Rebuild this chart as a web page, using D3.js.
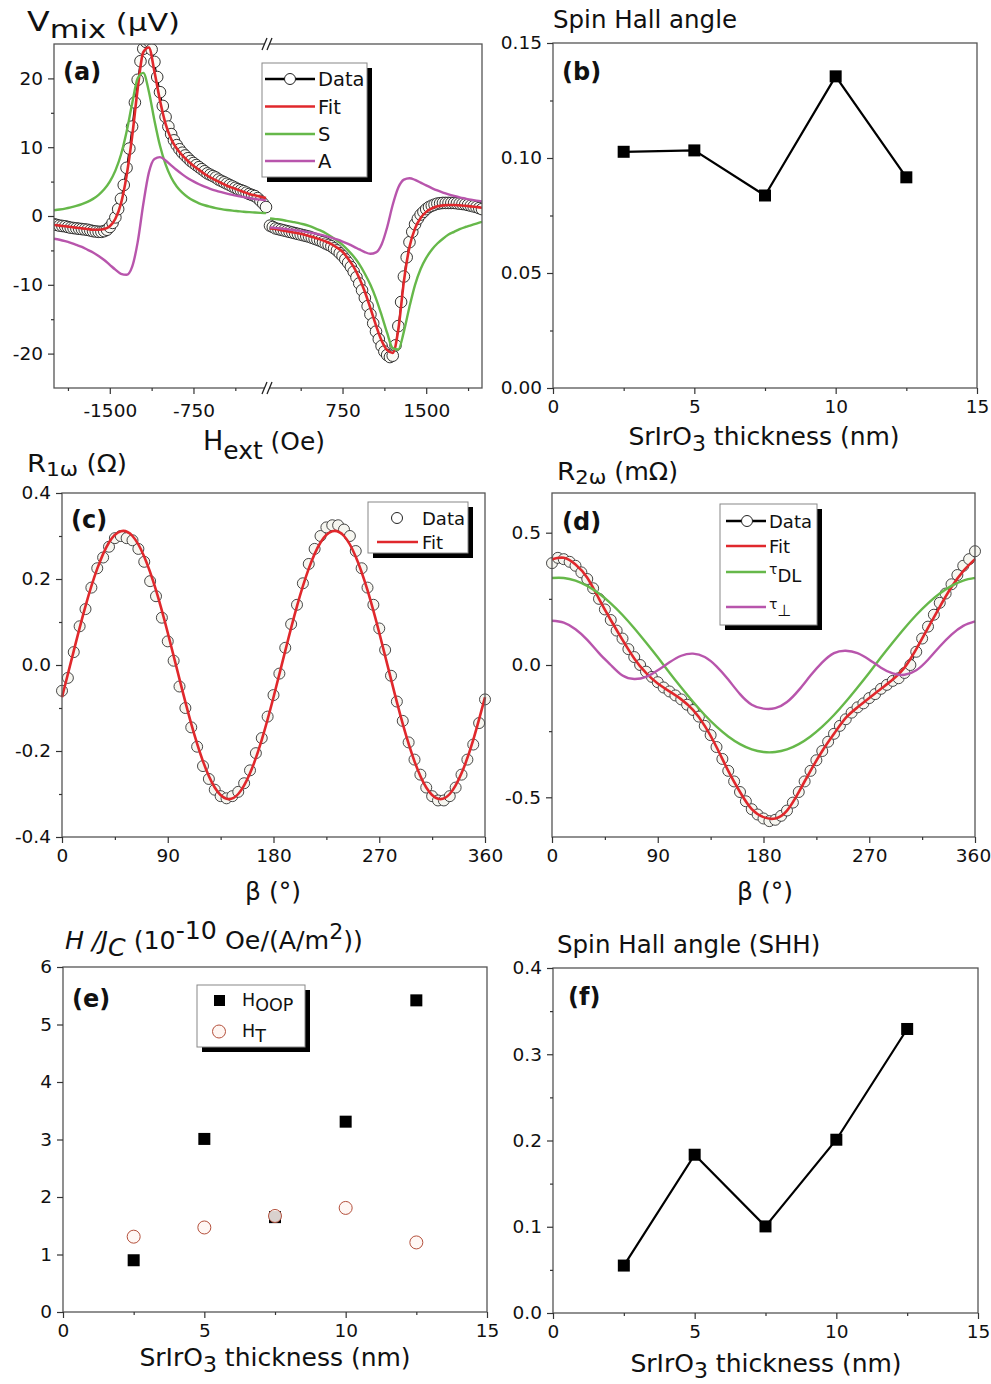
<!DOCTYPE html>
<html>
<head>
<meta charset="utf-8">
<script src="https://cdn.jsdelivr.net/npm/d3@7"></script>
<style>
  body { margin: 0; background: #fff; }
  svg { display: block; }
</style>
</head>
<body>
<svg id="fig" width="991" height="1384"></svg>
<script>
// ---------------- data ----------------
// (a) Vmix vs Hext, two branches of the broken axis
// measured points (denser grid)
var hDataLeft = [-2000,-1975,-1950,-1925,-1900,-1875,-1850,-1825,-1800,-1775,-1750,-1725,-1700,-1675,-1650,-1625,-1600,-1575,-1550,-1525,
  -1500,-1475,-1450,-1425,-1400,-1375,-1350,-1325,-1300,-1275,-1250,-1225,-1200,-1175,-1150,-1125,-1100,-1075,-1050,-1025,
  -1000,-975,-950,-925,-900,-875,-850,-825,-800,-775,-750,-725,-700,-675,-650,-625,-600,-575,-550,-525,
  -500,-475,-450,-425,-400,-375,-350,-325,-300,-275,-250,-225,-200,-175,-150,-125,-100];
var vDataLeft = [-1.2,-1.3,-1.4,-1.45,-1.5,-1.6,-1.7,-1.75,-1.8,-1.85,-1.9,-1.95,-2.0,-2.1,-2.2,-2.25,-2.3,-2.3,-2.2,-2.0,
  -1.6,-1.0,-0.2,1.0,2.5,4.5,7.0,9.8,13.0,16.5,19.8,22.5,24.3,25.3,25.4,24.2,22.4,20.2,18.0,16.0,
  14.4,13.0,11.9,11.0,10.3,9.7,9.2,8.8,8.4,8.0,7.7,7.4,7.1,6.8,6.5,6.2,6.0,5.8,5.6,5.3,
  5.1,4.9,4.7,4.5,4.3,4.1,3.9,3.75,3.6,3.4,3.2,3.05,2.9,2.6,2.2,1.8,1.3];
var hDataRight = [100,125,150,175,200,225,250,275,300,325,350,375,400,425,450,475,500,525,550,575,
  600,625,650,675,700,725,750,775,800,825,850,875,900,925,950,975,1000,1025,1050,1075,
  1100,1125,1150,1175,1200,1225,1250,1275,1300,1325,1350,1375,1400,1425,1450,1475,1500,1525,1550,1575,
  1600,1625,1650,1675,1700,1725,1750,1775,1800,1825,1850,1875,1900,1925,1950,1975,2000];
var vDataRight = [-1.4,-1.6,-1.8,-1.9,-2.0,-2.1,-2.2,-2.3,-2.4,-2.5,-2.6,-2.7,-2.8,-2.9,-3.0,-3.15,-3.3,-3.45,-3.6,-3.8,
  -4.0,-4.2,-4.4,-4.7,-5.0,-5.4,-5.8,-6.3,-6.8,-7.4,-8.1,-8.9,-9.8,-10.8,-11.9,-13.1,-14.3,-15.6,-16.8,-17.9,
  -18.9,-19.7,-20.2,-20.5,-20.3,-18.8,-16.0,-12.5,-8.8,-6.0,-3.8,-2.3,-1.2,-0.4,0.2,0.6,1.0,1.3,1.5,1.65,
  1.8,1.85,1.9,1.9,1.9,1.9,1.9,1.85,1.8,1.75,1.7,1.6,1.5,1.4,1.3,1.15,1.0];

// fitted curves and components
var hLeft = [-2000,-1950,-1900,-1850,-1800,-1750,-1700,-1650,-1600,-1550,-1500,-1450,-1400,-1350,-1300,-1250,-1200,-1150,-1100,-1050,-1000,-950,-900,-850,-800,-750,-700,-650,-600,-550,-500,-450,-400,-350,-300,-250,-200,-150,-100];
var vFitLeft = [-1.3,-1.4,-1.5,-1.6,-1.7,-1.8,-1.9,-2.0,-2.0,-1.9,-1.5,-0.4,1.8,5.8,11.5,18.5,23.8,24.5,21.0,16.8,13.4,11.2,9.8,8.8,8.0,7.3,6.7,6.1,5.6,5.2,4.8,4.4,4.1,3.8,3.5,3.2,3.0,2.8,2.6];
var vSLeft = [0.84,0.95,1.08,1.25,1.46,1.72,2.05,2.49,3.08,3.88,5.0,6.6,8.9,12.2,16.3,20.0,20.8,18.1,13.9,10.2,7.5,5.6,4.3,3.4,2.73,2.23,1.85,1.56,1.34,1.15,1.0,0.88,0.78,0.70,0.62,0.56,0.51,0.46,0.42];
var vALeft = [-3.3,-3.45,-3.65,-3.9,-4.2,-4.5,-4.9,-5.3,-5.8,-6.4,-7.1,-7.8,-8.4,-8.55,-7.4,-3.8,1.7,6.3,8.3,8.56,8.07,7.37,6.68,6.05,5.5,5.03,4.62,4.27,3.96,3.69,3.46,3.25,3.06,2.9,2.75,2.61,2.48,2.38,2.27];

var hRight = [100,150,200,250,300,350,400,450,500,550,600,650,700,750,800,850,900,950,1000,1050,1100,1150,1200,1250,1300,1350,1400,1450,1500,1550,1600,1650,1700,1750,1800,1850,1900,1950,2000];
var vFitRight = [-1.8,-1.9,-2.05,-2.2,-2.35,-2.5,-2.7,-2.9,-3.15,-3.4,-3.7,-4.1,-4.6,-5.2,-6.2,-7.4,-9.0,-11.0,-13.4,-15.9,-18.1,-19.5,-19.9,-16.5,-9.5,-4.5,-1.8,-0.3,0.6,1.1,1.4,1.55,1.6,1.6,1.55,1.5,1.4,1.3,1.2];
var vSRight = [-0.35,-0.45,-0.55,-0.7,-0.85,-1.0,-1.2,-1.45,-1.75,-2.1,-2.5,-3.0,-3.6,-4.2,-5.0,-5.9,-7.0,-8.4,-10.0,-12.0,-14.4,-17.0,-19.2,-19.4,-16.8,-13.2,-10.0,-7.7,-6.1,-4.9,-4.0,-3.3,-2.7,-2.3,-1.9,-1.6,-1.35,-1.1,-0.85];
var vARight = [-1.65,-1.73,-1.81,-1.9,-2.0,-2.12,-2.24,-2.38,-2.54,-2.71,-2.92,-3.15,-3.41,-3.71,-4.06,-4.44,-4.85,-5.25,-5.49,-5.29,-4.14,-1.63,1.63,4.14,5.29,5.49,5.25,4.85,4.44,4.06,3.71,3.41,3.15,2.92,2.71,2.54,2.38,2.24,2.12];

// (c), (d) angle sweeps
var beta5 = [0,5,10,15,20,25,30,35,40,45,50,55,60,65,70,75,80,85,90,95,100,105,110,115,120,125,130,135,140,145,150,155,160,165,170,175,180,185,190,195,200,205,210,215,220,225,230,235,240,245,250,255,260,265,270,275,280,285,290,295,300,305,310,315,320,325,330,335,340,345,350,355,360];
var beta10 = [0,10,20,30,40,50,60,70,80,90,100,110,120,130,140,150,160,170,180,190,200,210,220,230,240,250,260,270,280,290,300,310,320,330,340,350,360];

var r1Data = [-0.06,-0.03,0.03,0.09,0.13,0.18,0.225,0.25,0.275,0.295,
  0.30,0.295,0.29,0.27,0.24,0.195,0.16,0.11,0.055,0.01,
  -0.05,-0.10,-0.145,-0.19,-0.235,-0.265,-0.29,-0.305,-0.31,-0.305,
  -0.295,-0.275,-0.245,-0.205,-0.17,-0.12,-0.07,-0.02,0.04,0.095,
  0.14,0.19,0.235,0.27,0.30,0.32,0.325,0.325,0.315,0.30,
  0.265,0.225,0.18,0.14,0.085,0.035,-0.025,-0.085,-0.13,-0.18,
  -0.22,-0.255,-0.285,-0.305,-0.315,-0.315,-0.305,-0.285,-0.255,-0.22,
  -0.185,-0.135,-0.08];
var r1Fit = [-0.075,0.033,0.137,0.224,0.285,0.311,0.300,0.252,0.174,0.075,-0.033,-0.137,-0.224,-0.285,-0.311,-0.300,-0.252,-0.174,-0.075,
  0.033,0.137,0.224,0.285,0.311,0.300,0.252,0.174,0.075,-0.033,-0.137,-0.224,-0.285,-0.311,-0.300,-0.252,-0.174,-0.075];

var r2Data = [0.385,0.405,0.40,0.39,0.375,0.35,0.325,0.29,0.25,0.21,
  0.17,0.13,0.10,0.06,0.03,0.0,-0.025,-0.045,-0.065,-0.085,
  -0.10,-0.115,-0.13,-0.15,-0.17,-0.195,-0.23,-0.265,-0.31,-0.355,
  -0.40,-0.44,-0.48,-0.515,-0.545,-0.565,-0.58,-0.59,-0.585,-0.57,
  -0.55,-0.52,-0.48,-0.44,-0.40,-0.36,-0.325,-0.29,-0.26,-0.23,
  -0.205,-0.18,-0.16,-0.145,-0.125,-0.11,-0.09,-0.075,-0.06,-0.05,
  -0.03,0.0,0.05,0.10,0.145,0.19,0.235,0.27,0.305,0.34,
  0.375,0.40,0.43];
var r2Fit = [0.40,0.405,0.38,0.33,0.25,0.17,0.095,0.025,-0.03,-0.07,-0.10,-0.13,-0.17,-0.23,-0.31,-0.40,-0.48,-0.545,-0.575,
  -0.58,-0.55,-0.48,-0.40,-0.325,-0.26,-0.20,-0.16,-0.125,-0.09,-0.055,-0.01,0.06,0.14,0.22,0.295,0.355,0.40];
var tauDL = [0.329,0.329,0.319,0.299,0.270,0.233,0.189,0.139,0.085,0.029,-0.029,-0.085,-0.139,-0.189,-0.233,-0.270,-0.299,-0.319,-0.329,
  -0.329,-0.319,-0.299,-0.270,-0.233,-0.189,-0.139,-0.085,-0.029,0.029,0.085,0.139,0.189,0.233,0.270,0.299,0.319,0.329];
var tauPerp = [0.167,0.16,0.135,0.095,0.045,0.0,-0.04,-0.053,-0.045,-0.02,0.01,0.035,0.043,0.03,-0.005,-0.055,-0.11,-0.15,-0.165,
  -0.163,-0.14,-0.095,-0.04,0.01,0.045,0.054,0.045,0.02,-0.01,-0.032,-0.037,-0.02,0.02,0.07,0.115,0.148,0.165];

// (b), (e), (f) thickness series
var thickness = [2.5, 5, 7.5, 10, 12.5];
var shaB = [0.1027, 0.1033, 0.0837, 0.1355, 0.0916];
var hOOP = [0.90, 3.01, 1.65, 3.31, 5.42];
var hT = [1.31, 1.47, 1.67, 1.81, 1.21];
var shaF = [0.055, 0.1835, 0.1004, 0.2009, 0.3293];

// ---------------- drawing ----------------
var FONT = "'DejaVu Sans', 'Liberation Sans', Arial, sans-serif";
var RED = "#e0282c", GREEN = "#66b84a", PURPLE = "#b855ac";
var svg = d3.select("#fig");
var clipId = 0;

function zip(xs, ys) { return xs.map(function(x, i) { return [x, ys[i]]; }); }

function styleAxis(sel) {
  sel.select(".domain").remove();
  sel.selectAll(".tick line").attr("stroke", "#333").attr("stroke-width", 1.2);
  sel.selectAll(".tick text").attr("fill", "#111").style("font-size", "18.5px").style("font-family", FONT);
}

function xAxis(x, y0, major, minor, fmt, pad) {
  var ax = svg.append("g").attr("transform", "translate(0," + y0 + ")")
    .call(d3.axisBottom(x).tickValues(major).tickFormat(fmt).tickSize(6).tickPadding(pad || 5)).call(styleAxis);
  if (minor) svg.append("g").attr("transform", "translate(0," + y0 + ")")
    .call(d3.axisBottom(x).tickValues(minor).tickFormat("").tickSize(3)).call(styleAxis);
  return ax;
}
function yAxis(y, x0, major, minor, fmt) {
  svg.append("g").attr("transform", "translate(" + x0 + ",0)")
    .call(d3.axisLeft(y).tickValues(major).tickFormat(fmt).tickSize(6).tickPadding(5)).call(styleAxis);
  if (minor) svg.append("g").attr("transform", "translate(" + x0 + ",0)")
    .call(d3.axisLeft(y).tickValues(minor).tickFormat("").tickSize(3)).call(styleAxis);
}

function frame(x0, y0, x1, y1) {
  svg.append("rect").attr("x", x0).attr("y", y0).attr("width", x1 - x0).attr("height", y1 - y0)
    .attr("fill", "none").attr("stroke", "#555").attr("stroke-width", 1.3);
}

function clipped(x0, y0, x1, y1) {
  var id = "clip" + (clipId++);
  svg.append("clipPath").attr("id", id).append("rect")
    .attr("x", x0).attr("y", y0).attr("width", x1 - x0).attr("height", y1 - y0);
  return svg.append("g").attr("clip-path", "url(#" + id + ")");
}

function panelLabel(x, y, s) {
  svg.append("text").attr("x", x).attr("y", y).text(s)
    .style("font-family", FONT).style("font-weight", "bold").style("font-size", "24px").attr("fill", "#111");
}

// composite text: parts = [{t, size, shift, italic, family}]
function rich(x, y, parts, anchor, len) {
  var t = svg.append("text").attr("x", x).attr("y", y).attr("text-anchor", anchor || "start")
    .attr("fill", "#111").style("font-family", FONT);
  if (len) t.attr("textLength", len).attr("lengthAdjust", "spacingAndGlyphs");
  var cur = 0;
  parts.forEach(function(p) {
    var s = t.append("tspan").text(p.t).style("font-size", p.size + "px");
    var sh = p.shift || 0;
    if (sh !== cur) s.attr("dy", sh - cur);
    cur = sh;
    if (p.italic) s.style("font-style", "italic");
    if (p.family) s.style("font-family", p.family);
  });
  return t;
}

function legendBox(x0, y0, x1, y1) {
  svg.append("rect").attr("x", x0 + 5).attr("y", y0 + 5).attr("width", x1 - x0).attr("height", y1 - y0).attr("fill", "#000");
  svg.append("rect").attr("x", x0).attr("y", y0).attr("width", x1 - x0).attr("height", y1 - y0)
    .attr("fill", "#fff").attr("stroke", "#888").attr("stroke-width", 1);
}
function legendText(x, y, parts, size) {
  return rich(x, y, parts.map(function(p) { return Object.assign({ size: size }, p); }));
}

var thicknessLabel = [{ t: "SrIrO", size: 25 }, { t: "3", size: 22, shift: 6 }, { t: " thickness (nm)", size: 25, shift: 0 }];

// ======== (a) ========
(function() {
  var L = 54, R = 482, T = 44, B = 388;
  var xL = d3.scaleLinear().domain([-2000, -100]).range([L, 266]);
  var xR = d3.scaleLinear().domain([100, 2000]).range([270, R]);
  var y = d3.scaleLinear().domain([-25, 25]).range([B, T]);

  var g = clipped(L, T, R, B);
  [[xL, hDataLeft, vDataLeft, hLeft, vFitLeft, vSLeft, vALeft], [xR, hDataRight, vDataRight, hRight, vFitRight, vSRight, vARight]].forEach(function(b) {
    var x = b[0];
    var lin = d3.line().x(function(d) { return x(d[0]); }).y(function(d) { return y(d[1]); });
    var smooth = d3.line().curve(d3.curveMonotoneX).x(function(d) { return x(d[0]); }).y(function(d) { return y(d[1]); });
    g.append("path").attr("d", lin(zip(b[1], b[2]))).attr("fill", "none").attr("stroke", "#000").attr("stroke-width", 1.2);
    g.selectAll(null).data(zip(b[1], b[2])).enter().append("circle")
      .attr("cx", function(d) { return x(d[0]); }).attr("cy", function(d) { return y(d[1]); })
      .attr("r", 5.8).attr("fill", "#fbfbf6").attr("stroke", "#1e1e1e").attr("stroke-width", 0.9);
    g.append("path").attr("d", smooth(zip(b[3], b[4]))).attr("fill", "none").attr("stroke", RED).attr("stroke-width", 2.6);
    g.append("path").attr("d", smooth(zip(b[3], b[5]))).attr("fill", "none").attr("stroke", GREEN).attr("stroke-width", 2.4);
    g.append("path").attr("d", smooth(zip(b[3], b[6]))).attr("fill", "none").attr("stroke", PURPLE).attr("stroke-width", 2.4);
  });

  frame(L, T, R, B);
  xAxis(xL, B, [-1500, -750], [-1875, -1125, -375], function(d) { return String(d); }, 10);
  xAxis(xR, B, [750, 1500], [375, 1125, 1875], function(d) { return String(d); }, 10);
  yAxis(y, L, [-20, -10, 0, 10, 20], [-15, -5, 5, 15], function(d) { return String(d); });

  // axis break marks
  [T, B].forEach(function(yy) {
    svg.append("path").attr("d", "M262," + (yy + 6) + "L267," + (yy - 6) + "L272," + (yy - 6) + "L267," + (yy + 6) + "Z")
      .attr("fill", "#fff");
    svg.append("path").attr("d", "M262," + (yy + 6) + "L267," + (yy - 6) + "M267," + (yy + 6) + "L272," + (yy - 6))
      .attr("stroke", "#222").attr("stroke-width", 1.3).attr("fill", "none");
  });

  panelLabel(63, 80, "(a)");

  legendBox(262, 63, 367, 177);
  var ly = [79, 106.5, 134, 161];
  svg.append("line").attr("x1", 265).attr("x2", 315).attr("y1", ly[0]).attr("y2", ly[0]).attr("stroke", "#000").attr("stroke-width", 2.4);
  svg.append("circle").attr("cx", 290).attr("cy", ly[0]).attr("r", 5.5).attr("fill", "#fff").attr("stroke", "#222");
  [[RED, 1], [GREEN, 2], [PURPLE, 3]].forEach(function(c) {
    svg.append("line").attr("x1", 265).attr("x2", 315).attr("y1", ly[c[1]]).attr("y2", ly[c[1]]).attr("stroke", c[0]).attr("stroke-width", 2.6);
  });
  ["Data", "Fit", "S", "A"].forEach(function(s, i) { legendText(318, ly[i] + 7, [{ t: s }], 19.5); });

  rich(27, 31, [{ t: "V", size: 26 }, { t: "mix", size: 24, shift: 7 }, { t: " (μV)", size: 24, shift: 0 }], "start", 153);
  rich(264, 450, [{ t: "H", size: 26 }, { t: "ext", size: 24, shift: 9 }, { t: " (Oe)", size: 24, shift: 0 }], "middle", 122);
})();

// ======== (b) ========
(function() {
  var L = 553, R = 977, T = 43, B = 388;
  var x = d3.scaleLinear().domain([0, 15]).range([L, R]);
  var y = d3.scaleLinear().domain([0, 0.15]).range([B, T]);
  frame(L, T, R, B);
  svg.append("path").attr("d", d3.line().x(function(d) { return x(d[0]); }).y(function(d) { return y(d[1]); })(zip(thickness, shaB)))
    .attr("fill", "none").attr("stroke", "#000").attr("stroke-width", 2.2);
  svg.selectAll(null).data(zip(thickness, shaB)).enter().append("rect")
    .attr("x", function(d) { return x(d[0]) - 6; }).attr("y", function(d) { return y(d[1]) - 6; })
    .attr("width", 12).attr("height", 12).attr("fill", "#000");
  xAxis(x, B, [0, 5, 10, 15], [2.5, 7.5, 12.5], function(d) { return String(d); }, 6);
  yAxis(y, L, [0, 0.05, 0.1, 0.15], [0.025, 0.075, 0.125], function(d) { return d.toFixed(2); });
  panelLabel(562, 80, "(b)");
  rich(553, 28, [{ t: "Spin Hall angle", size: 24.5 }]);
  rich(764, 445, thicknessLabel, "middle");
})();

// ======== (c) ========
(function() {
  var L = 62, R = 485, T = 493, B = 837;
  var x = d3.scaleLinear().domain([0, 360]).range([L, R]);
  var y = d3.scaleLinear().domain([-0.4, 0.4]).range([B, T]);
  var g = clipped(L - 8, T, R + 8, B);
  g.selectAll(null).data(zip(beta5, r1Data)).enter().append("circle")
    .attr("cx", function(d) { return x(d[0]); }).attr("cy", function(d) { return y(d[1]); })
    .attr("r", 5.5).attr("fill", "#f6f6f0").attr("stroke", "#333").attr("stroke-width", 0.9);
  g.append("path").attr("d", d3.line().curve(d3.curveNatural).x(function(d) { return x(d[0]); }).y(function(d) { return y(d[1]); })(zip(beta10, r1Fit)))
    .attr("fill", "none").attr("stroke", RED).attr("stroke-width", 2.6);
  frame(L, T, R, B);
  xAxis(x, B, [0, 90, 180, 270, 360], [45, 135, 225, 315], function(d) { return String(d); }, 6);
  yAxis(y, L, [-0.4, -0.2, 0, 0.2, 0.4], [-0.3, -0.1, 0.1, 0.3], function(d) { return d.toFixed(1); });
  panelLabel(71, 528, "(c)");

  legendBox(368, 502, 468, 553);
  svg.append("circle").attr("cx", 397).attr("cy", 518).attr("r", 5.5).attr("fill", "#fff").attr("stroke", "#222");
  svg.append("line").attr("x1", 377).attr("x2", 418).attr("y1", 542).attr("y2", 542).attr("stroke", RED).attr("stroke-width", 2.6);
  legendText(422, 525, [{ t: "Data" }], 18);
  legendText(422, 549, [{ t: "Fit" }], 18);

  rich(27, 472, [{ t: "R", size: 25 }, { t: "1ω", size: 20, shift: 4 }, { t: " (Ω)", size: 24, shift: 0 }], "start", 100);
  rich(273, 900, [{ t: "β (°)", size: 25 }], "middle");
})();

// ======== (d) ========
(function() {
  var L = 552, R = 975, T = 493, B = 837;
  var x = d3.scaleLinear().domain([0, 360]).range([L, R]);
  var y = d3.scaleLinear().domain([-0.65, 0.65]).range([B, T]);
  var g = clipped(L - 8, T, R + 8, B);
  var sm = d3.line().curve(d3.curveNatural).x(function(d) { return x(d[0]); }).y(function(d) { return y(d[1]); });
  g.append("path").attr("d", d3.line().x(function(d) { return x(d[0]); }).y(function(d) { return y(d[1]); })(zip(beta5, r2Data)))
    .attr("fill", "none").attr("stroke", "#000").attr("stroke-width", 1);
  g.selectAll(null).data(zip(beta5, r2Data)).enter().append("circle")
    .attr("cx", function(d) { return x(d[0]); }).attr("cy", function(d) { return y(d[1]); })
    .attr("r", 5.5).attr("fill", "#f6f6f0").attr("stroke", "#333").attr("stroke-width", 0.9);
  g.append("path").attr("d", sm(zip(beta10, r2Fit))).attr("fill", "none").attr("stroke", RED).attr("stroke-width", 2.6);
  g.append("path").attr("d", sm(zip(beta10, tauDL))).attr("fill", "none").attr("stroke", GREEN).attr("stroke-width", 2.4);
  g.append("path").attr("d", sm(zip(beta10, tauPerp))).attr("fill", "none").attr("stroke", PURPLE).attr("stroke-width", 2.4);
  frame(L, T, R, B);
  var ax = xAxis(x, B, [0, 90, 180, 270, 360], [45, 135, 225, 315], function(d) { return String(d); }, 6);
  ax.selectAll(".tick text").filter(function(d) { return d === 360; }).attr("dx", -2);
  yAxis(y, L, [-0.5, 0, 0.5], [-0.25, 0.25], function(d) { return d.toFixed(1); });
  panelLabel(562, 530, "(d)");

  legendBox(720, 504, 817, 625);
  var ly = [521, 546, 572, 607];
  svg.append("line").attr("x1", 726).attr("x2", 766).attr("y1", ly[0]).attr("y2", ly[0]).attr("stroke", "#000").attr("stroke-width", 2.4);
  svg.append("circle").attr("cx", 747).attr("cy", ly[0]).attr("r", 5.5).attr("fill", "#fff").attr("stroke", "#222");
  [[RED, 1], [GREEN, 2], [PURPLE, 3]].forEach(function(c) {
    svg.append("line").attr("x1", 726).attr("x2", 766).attr("y1", ly[c[1]]).attr("y2", ly[c[1]]).attr("stroke", c[0]).attr("stroke-width", 2.6);
  });
  legendText(769, ly[0] + 7, [{ t: "Data" }], 18);
  legendText(769, ly[1] + 7, [{ t: "Fit" }], 18);
  legendText(769, ly[2] + 2, [{ t: "τ", size: 14 }, { t: "DL", shift: 8 }], 18);
  legendText(769, ly[3] + 2, [{ t: "τ", size: 14 }, { t: "⊥", size: 16, shift: 7 }], 18);

  rich(557, 480, [{ t: "R", size: 25 }, { t: "2ω", size: 20, shift: 4 }, { t: " (mΩ)", size: 24, shift: 0 }], "start", 121);
  rich(765, 900, [{ t: "β (°)", size: 25 }], "middle");
})();

// ======== (e) ========
(function() {
  var L = 63, R = 487, T = 967, B = 1312;
  var x = d3.scaleLinear().domain([0, 15]).range([L, R]);
  var y = d3.scaleLinear().domain([0, 6]).range([B, T]);
  frame(L, T, R, B);
  svg.selectAll(null).data(zip(thickness, hOOP)).enter().append("rect")
    .attr("x", function(d) { return x(d[0]) - 6; }).attr("y", function(d) { return y(d[1]) - 6; })
    .attr("width", 12).attr("height", 12).attr("fill", "#000");
  svg.selectAll(null).data(zip(thickness, hT)).enter().append("circle")
    .attr("cx", function(d) { return x(d[0]); }).attr("cy", function(d) { return y(d[1]); })
    .attr("r", 6.5).attr("fill", "#fff6f2").attr("fill-opacity", 0.85).attr("stroke", "#b4503c").attr("stroke-width", 1);
  xAxis(x, B, [0, 5, 10, 15], [2.5, 7.5, 12.5], function(d) { return String(d); }, 6);
  yAxis(y, L, [0, 1, 2, 3, 4, 5, 6], null, function(d) { return String(d); });
  panelLabel(72, 1007, "(e)");

  legendBox(197, 985, 305, 1047);
  svg.append("rect").attr("x", 214).attr("y", 995).attr("width", 11).attr("height", 11).attr("fill", "#000");
  svg.append("circle").attr("cx", 219).attr("cy", 1031.5).attr("r", 6.5).attr("fill", "#fff6f2").attr("stroke", "#b4503c");
  legendText(242, 1006, [{ t: "H" }, { t: "OOP", shift: 5 }], 17.5);
  legendText(242, 1037, [{ t: "H" }, { t: "T", shift: 5 }], 17.5);

  rich(65, 949, [
    { t: "H /J", size: 24, italic: true },
    { t: "C", size: 24, italic: true, shift: 7 },
    { t: " (10", size: 24, shift: 0 },
    { t: "-10", size: 24, shift: -10 },
    { t: " Oe/(A/m", size: 24, shift: 0 },
    { t: "2", size: 21, shift: -10 },
    { t: "))", size: 24, shift: 0 }
  ], "start", 298);
  rich(275, 1366, thicknessLabel, "middle");
})();

// ======== (f) ========
(function() {
  var L = 553, R = 978, T = 968, B = 1313;
  var x = d3.scaleLinear().domain([0, 15]).range([L, R]);
  var y = d3.scaleLinear().domain([0, 0.4]).range([B, T]);
  frame(L, T, R, B);
  svg.append("path").attr("d", d3.line().x(function(d) { return x(d[0]); }).y(function(d) { return y(d[1]); })(zip(thickness, shaF)))
    .attr("fill", "none").attr("stroke", "#000").attr("stroke-width", 2.2);
  svg.selectAll(null).data(zip(thickness, shaF)).enter().append("rect")
    .attr("x", function(d) { return x(d[0]) - 6; }).attr("y", function(d) { return y(d[1]) - 6; })
    .attr("width", 12).attr("height", 12).attr("fill", "#000");
  xAxis(x, B, [0, 5, 10, 15], [2.5, 7.5, 12.5], function(d) { return String(d); }, 6);
  yAxis(y, L, [0, 0.1, 0.2, 0.3, 0.4], [0.05, 0.15, 0.25, 0.35], function(d) { return d.toFixed(1); });
  panelLabel(568, 1005, "(f)");
  rich(557, 953, [{ t: "Spin Hall angle (SHH)", size: 24.5 }]);
  rich(766, 1372, thicknessLabel, "middle");
})();
</script>
</body>
</html>
